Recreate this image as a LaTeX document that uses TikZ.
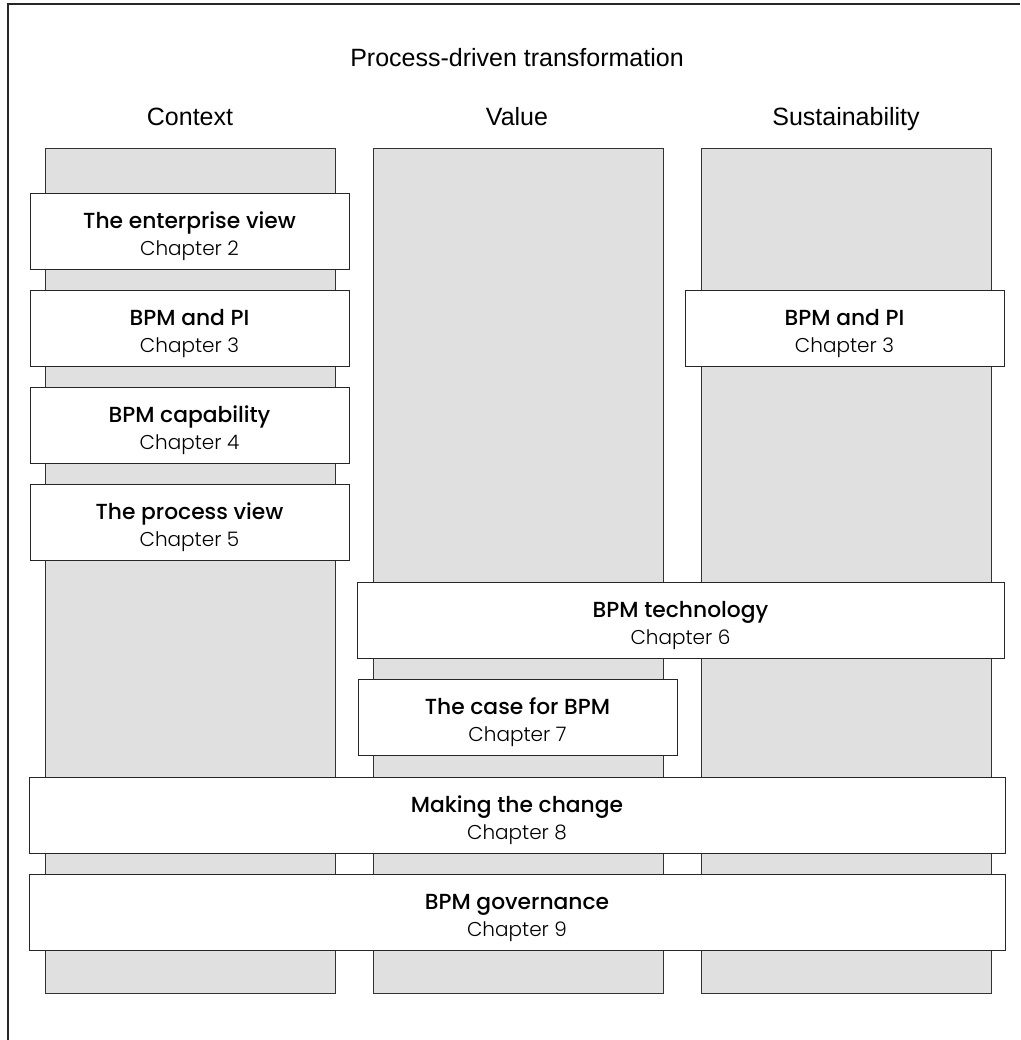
\documentclass[tikz,border=0pt]{standalone}
\usepackage{fontspec}
\setmainfont{Liberation Sans}
\newfontfamily\boxfont{Poppins Medium}
\newfontfamily\chapfont{Poppins Light}
\usetikzlibrary{positioning}

\tikzset{
  column/.style={draw=black!80, fill=black!12, line width=0.8pt, anchor=north west,
    minimum width=290pt, minimum height=845pt, inner sep=0pt, outer sep=0pt},
  topic/.style={draw=black!85, fill=white, line width=0.8pt, anchor=north west,
    minimum height=76pt, inner sep=0pt, outer sep=0pt, align=center,
    font=\fontsize{20}{27}\selectfont},
  heading/.style={font=\fontsize{25}{30}\selectfont, anchor=base}
}
\newcommand{\Topic}[2]{{\boxfont\fontsize{21.8}{27}\selectfont\rule{0pt}{27pt}#1}\\{\chapfont\fontsize{20}{27}\selectfont Chapter #2}}

\begin{document}
\begin{tikzpicture}[x=1pt,y=-1pt]
\useasboundingbox (0,0) rectangle (1020,1040);

% outer frame (only top and left edges fall on the page)
\draw[black!85, line width=1.3pt] (1020,4) -- (8,4) -- (8,1040);

\node[heading] (title) at (517,67) {Process-driven transformation};
\node[heading] (hcontext) at (190,126) {Context};
\node[heading] (hvalue) at (517,126) {Value};
\node[heading] (hsust) at (846,126) {Sustainability};

% the three columns
\node[column] (context) at (45,148) {};
\node[column] (value) at (373,148) {};
\node[column] (sust) at (701,148) {};

% chapter boxes
\node[topic, minimum width=319pt] (enterprise) at (30,193) {\Topic{The enterprise view}{2}};
\node[topic, minimum width=319pt] (bpmpi) at (30,290) {\Topic{BPM and PI}{3}};
\node[topic, minimum width=319pt] (capability) at (30,387) {\Topic{BPM capability}{4}};
\node[topic, minimum width=319pt] (processview) at (30,484) {\Topic{The process view}{5}};
\node[topic, minimum width=319pt] (bpmpi2) at (685,290) {\Topic{BPM and PI}{3}};
\node[topic, minimum width=647pt] (technology) at (357,582) {\Topic{BPM technology}{6}};
\node[topic, minimum width=319pt] (casebpm) at (358,679) {\Topic{The case for BPM}{7}};
\node[topic, minimum width=976pt] (change) at (29,777) {\Topic{Making the change}{8}};
\node[topic, minimum width=976pt] (governance) at (29,874) {\Topic{BPM governance}{9}};
\end{tikzpicture}
\end{document}
